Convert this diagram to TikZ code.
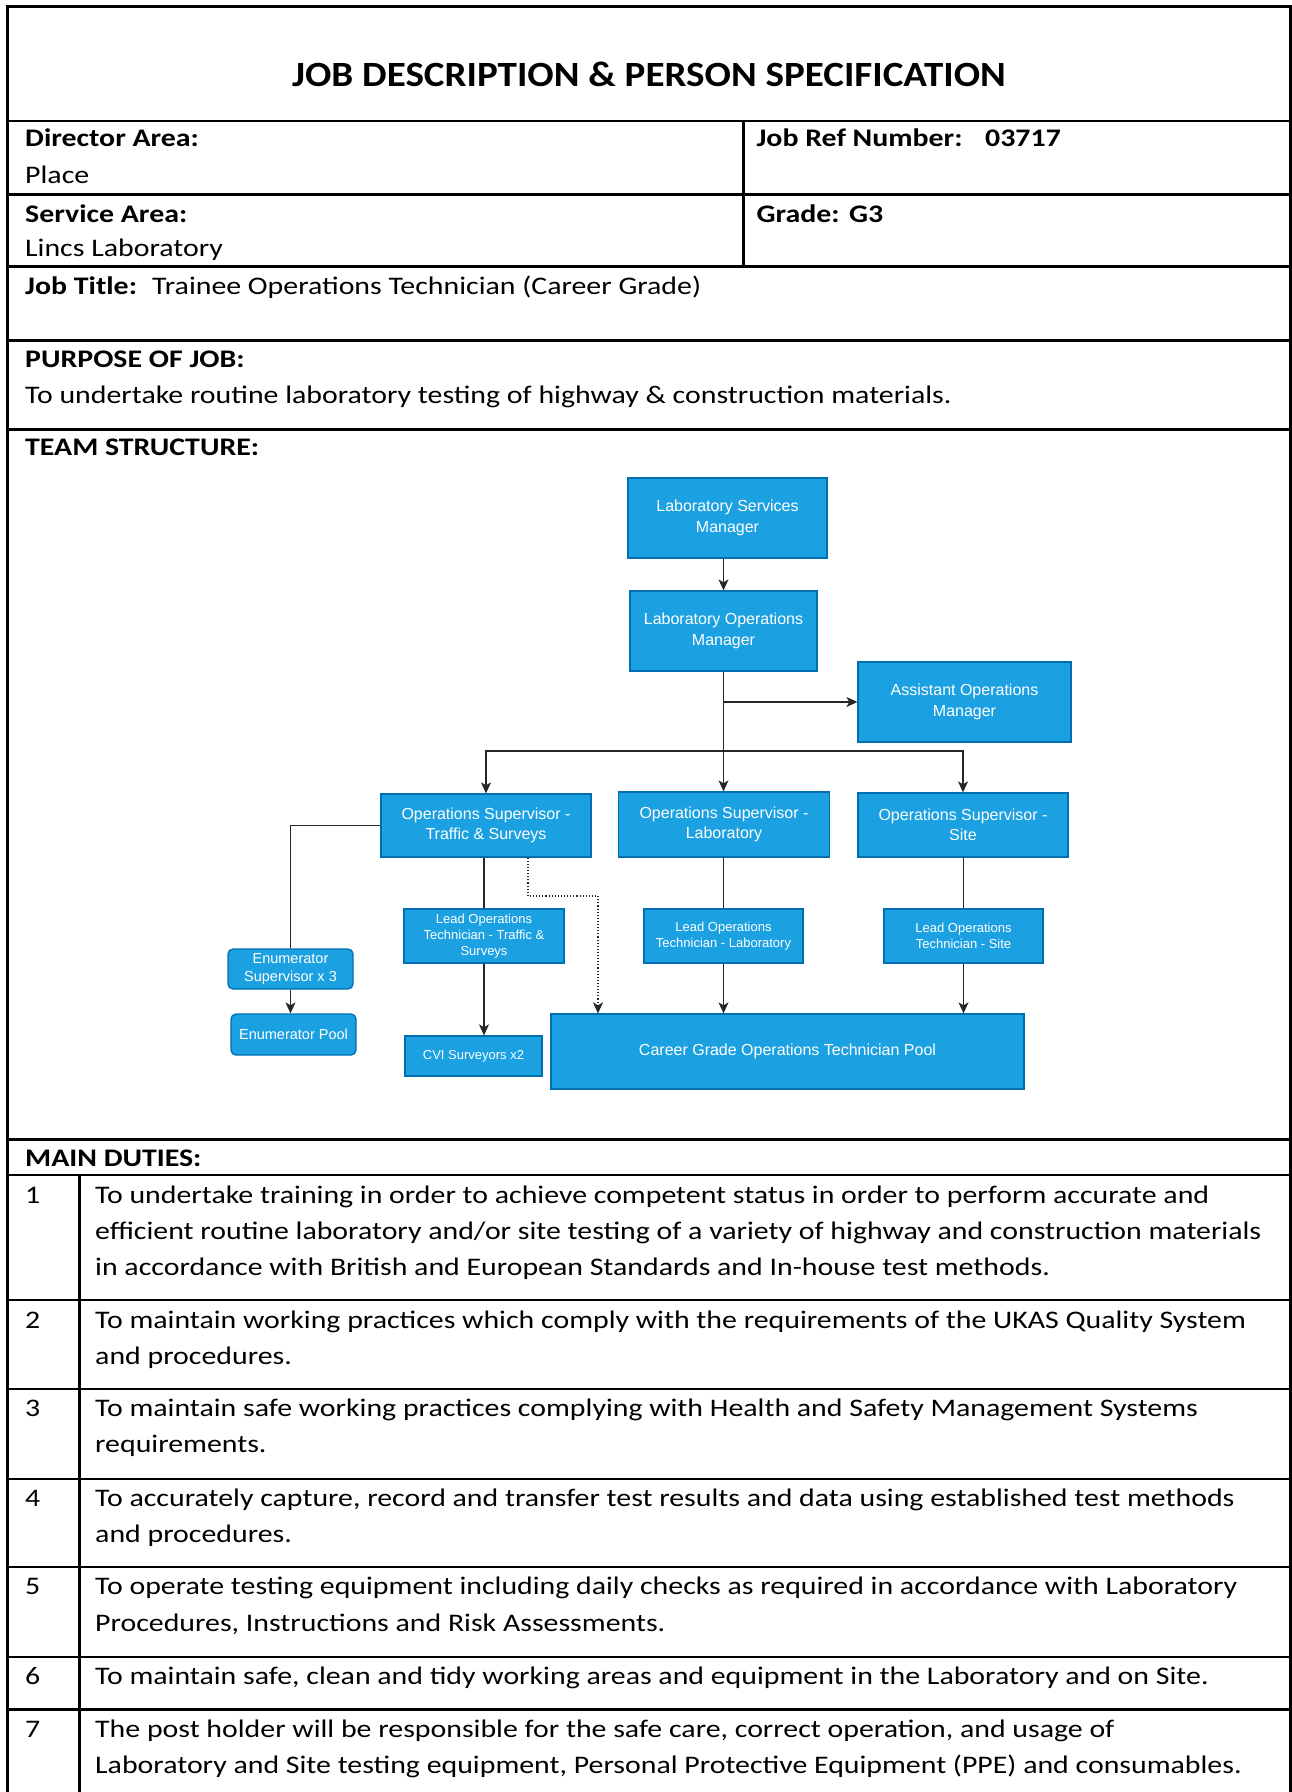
\documentclass[tikz,border=0pt]{standalone}
\usepackage{fontspec}
\setmainfont{Carlito}[FakeStretch=1.18]
\newfontfamily\titlefont{Carlito}[FakeStretch=1.10]
\newfontfamily\arialfont{Liberation Sans}
\usetikzlibrary{arrows.meta,calc}
\definecolor{boxfill}{HTML}{1BA1E2}
\definecolor{boxline}{HTML}{006EAF}
\begin{document}
\begin{tikzpicture}[x=1pt,y=-1pt,
  tline/.style={line width=2.6pt},
  txt/.style={anchor=base west,inner sep=0pt,font=\fontsize{25.3}{30}\selectfont},
  btxt/.style={anchor=base west,inner sep=0pt,font=\fontsize{25.3}{30}\selectfont\bfseries},
  org/.style={draw=boxline,fill=boxfill,line width=1.3pt,text=white,align=center,inner sep=0pt,font=\arialfont\fontsize{16}{20.5}\selectfont},
  orgsmall/.style={org,font=\arialfont\fontsize{13}{16}\selectfont},
  orgenum/.style={org,rounded corners=5pt,font=\arialfont\fontsize{14.5}{18}\selectfont},
  conn/.style={draw=black!85,line width=1.1pt},
  arr/.style={conn,-{Stealth[length=11pt,width=10pt,inset=3pt]}},
  dotarr/.style={arr,dotted}]
\useasboundingbox (0,0) rectangle (1292,1792);
\fill[white] (0,0) rectangle (1292,1792);
% ---------- table frame ----------
\draw[tline] (7.3,1792) -- (7.3,6.7) -- (1290.7,6.7) -- (1290.7,1792);
\foreach \yy in {121,194.3,266.2,340.7,429.5,1139.5,1300,1389,1479,1567,1657,1709.5}
  \draw[tline] (7.3,\yy) -- (1290.7,\yy);
\draw[line width=1.8pt] (7.3,1175) -- (1290.7,1175);
\draw[tline] (743.5,121) -- (743.5,266.2);
\draw[tline] (79.7,1175) -- (79.7,1792);
% ---------- header texts ----------
\node[anchor=base,inner sep=0pt,font=\titlefont\fontsize{35.5}{40}\selectfont\bfseries] (title) at (649,86) {JOB DESCRIPTION \& PERSON SPECIFICATION};
\node[btxt] (dirl) at (25,146.7) {Director Area:};
\node[txt] (dirv) at (25,183.3) {Place};
\node[btxt] (refl) at (756.4,146.7) {Job Ref Number:};
\node[btxt] (refv) at (985,146.7) {03717};
\node[btxt] (serl) at (25,222) {Service Area:};
\node[txt] (serv) at (25,256) {Lincs Laboratory};
\node[btxt] (grl) at (756.4,222) {Grade:};
\node[btxt] (grv) at (849,222) {G3};
\node[btxt] (jtl) at (25,294) {Job Title:};
\node[txt] (jtv) at (152,294) {Trainee Operations Technician (Career Grade)};
\node[btxt] (pl) at (25,367) {PURPOSE OF JOB:};
\node[txt] (pv) at (25,403) {To undertake routine laboratory testing of highway \& construction materials.};
\node[btxt] (tsl) at (25,455) {TEAM STRUCTURE:};
\node[btxt] (mdl) at (25,1166) {MAIN DUTIES:};
% ---------- duties ----------
\node[txt] (n1) at (25,1203.3) {1};
\node[txt] (d1a) at (95,1203.3) {To undertake training in order to achieve competent status in order to perform accurate and};
\node[txt] (d1b) at (95,1239.6) {efficient routine laboratory and/or site testing of a variety of highway and construction materials};
\node[txt] (d1c) at (95,1275.9) {in accordance with British and European Standards and In-house test methods.};
\node[txt] (n2) at (25,1328.3) {2};
\node[txt] (d2a) at (95,1328.3) {To maintain working practices which comply with the requirements of the UKAS Quality System};
\node[txt] (d2b) at (95,1364.6) {and procedures.};
\node[txt] (n3) at (25,1416.3) {3};
\node[txt] (d3a) at (95,1416.3) {To maintain safe working practices complying with Health and Safety Management Systems};
\node[txt] (d3b) at (95,1452.6) {requirements.};
\node[txt] (n4) at (25,1506.3) {4};
\node[txt] (d4a) at (95,1506.3) {To accurately capture, record and transfer test results and data using established test methods};
\node[txt] (d4b) at (95,1542.6) {and procedures.};
\node[txt] (n5) at (25,1594.8) {5};
\node[txt] (d5a) at (95,1594.8) {To operate testing equipment including daily checks as required in accordance with Laboratory};
\node[txt] (d5b) at (95,1631.1) {Procedures, Instructions and Risk Assessments.};
\node[txt] (n6) at (25,1684.5) {6};
\node[txt] (d6a) at (95,1684.5) {To maintain safe, clean and tidy working areas and equipment in the Laboratory and on Site.};
\node[txt] (n7) at (25,1737.8) {7};
\node[txt] (d7a) at (95,1737.8) {The post holder will be responsible for the safe care, correct operation, and usage of};
\node[txt] (d7b) at (95,1773.5) {Laboratory and Site testing equipment, Personal Protective Equipment (PPE) and consumables.};
% ---------- org chart ----------
\node[org,minimum width=199pt,minimum height=80pt] (lsm) at (727.5,518) {Laboratory Services\\Manager};
\node[org,minimum width=187pt,minimum height=80pt] (lom) at (723.5,631) {Laboratory Operations\\Manager};
\node[org,minimum width=213pt,minimum height=80pt] (aom) at (964.5,702) {Assistant Operations\\Manager};
\node[org,minimum width=210pt,minimum height=63pt] (ost) at (486,825.5) {Operations Supervisor -\\Traffic \& Surveys};
\node[org,minimum width=211pt,minimum height=65pt] (osl) at (724,824.5) {Operations Supervisor -\\Laboratory};
\node[org,minimum width=210pt,minimum height=64pt] (oss) at (963,825) {Operations Supervisor -\\Site};
\node[orgsmall,minimum width=160pt,minimum height=54pt] (lot) at (484,936) {Lead Operations\\Technician - Traffic \&\\Surveys};
\node[orgsmall,minimum width=159pt,minimum height=54pt] (lol) at (723.5,936) {Lead Operations\\Technician - Laboratory};
\node[orgsmall,minimum width=159pt,minimum height=54pt] (los) at (963.5,936) {Lead Operations\\Technician - Site};
\node[orgenum,minimum width=125pt,minimum height=40pt] (es) at (290.5,969) {Enumerator\\Supervisor x 3};
\node[orgenum,minimum width=125pt,minimum height=41pt] (ep) at (293.5,1034.5) {Enumerator Pool};
\node[org,font=\arialfont\fontsize{13}{15}\selectfont,minimum width=137pt,minimum height=40pt] (cvi) at (473.5,1056) {CVI Surveyors x2};
\node[org,minimum width=473pt,minimum height=75pt] (cgp) at (787.5,1051.5) {Career Grade Operations Technician Pool};
% connectors
\draw[arr] (lom.north |- lsm.south) -- (lom.north);
\draw[arr] (lom.south) -- (lom.south |- osl.north);
\draw[arr] (lom.south |- aom.west) -- (aom.west);
\coordinate (bus) at (723.5,751);
\draw[arr] (bus) -| (ost.north);
\draw[arr] (bus) -| (oss.north);
\draw[conn] (ost.west) -| (es.north);
\draw[arr] (es.south) -- (es.south |- ep.north);
\draw[conn] (lot.north |- ost.south) -- (lot.north);
\draw[arr] (lot.south) -- (lot.south |- cvi.north);
\coordinate (dturn) at (598,896);
\draw[dotarr] ([xshift=42pt]ost.south) |- (dturn) -- (dturn |- cgp.north);
\draw[conn] (lol.north |- osl.south) -- (lol.north);
\draw[arr] (lol.south) -- (lol.south |- cgp.north);
\draw[conn] (los.north |- oss.south) -- (los.north);
\draw[arr] (los.south) -- (los.south |- cgp.north);
\end{tikzpicture}
\end{document}
